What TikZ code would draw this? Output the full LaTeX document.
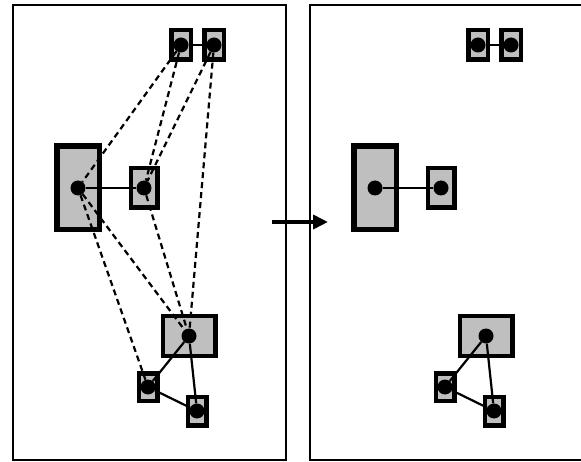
\documentclass[tikz,border=0pt]{standalone}
\usetikzlibrary{arrows.meta}
\tikzstyle{panel} = [draw,line width=2pt]
\tikzstyle{cell} = [draw,fill=gray!50,line width=4.5pt,inner sep=0pt]
\tikzstyle{dot} = [circle,fill=black,inner sep=0pt,minimum size=15pt]
\tikzstyle{link} = [line width=2.2pt]
\tikzstyle{match} = [line width=2.2pt,dash pattern=on 6pt off 4pt]
\tikzstyle{move} = [line width=4pt,-{Triangle[length=15pt,width=14pt]}]

\begin{document}
\begin{tikzpicture}[x=1pt,y=-1pt]
  \useasboundingbox (0,0) rectangle (581,462);
  \draw[panel] (13,5) rectangle (286,460);
  \draw[panel] (310,5) rectangle (583,460);
  \node[cell,minimum width=19.5pt,minimum height=29.5pt] (lA) at (181,45) {};
  \node[cell,minimum width=19.5pt,minimum height=29.5pt] (lB) at (214,45) {};
  \node[cell,line width=5.5pt,minimum width=42.5pt,minimum height=83.5pt] (lC) at (78,188) {};
  \node[cell,minimum width=26.5pt,minimum height=39.5pt] (lD) at (144,188) {};
  \node[cell,minimum width=52.5pt,minimum height=39.5pt] (lE) at (189,336) {};
  \node[cell,minimum width=18.5pt,minimum height=27.5pt] (lF) at (148,387) {};
  \node[cell,minimum width=18.5pt,minimum height=28.5pt] (lG) at (197,411) {};
  \node[dot] (la) at (lA) {};
  \node[dot] (lb) at (lB) {};
  \node[dot] (lc) at (lC) {};
  \node[dot] (ld) at (lD) {};
  \node[dot] (le) at (lE) {};
  \node[dot] (lf) at (lF) {};
  \node[dot] (lg) at (lG) {};
  \draw[link] (la) -- (lb);
  \draw[link] (lc) -- (ld);
  \draw[link] (le) -- (lf);
  \draw[link] (le) -- (lg);
  \draw[link] (lf) -- (lg);
  \draw[match] (la) -- (lc);
  \draw[match] (la) -- (ld);
  \draw[match] (lb) -- (ld);
  \draw[match] (lb) -- (le);
  \draw[match] (lc) -- (le);
  \draw[match] (lc) -- (lf);
  \draw[match] (ld) -- (le);
  \begin{scope}[xshift=297pt]
    \node[cell,minimum width=19.5pt,minimum height=29.5pt] (rA) at (181,45) {};
    \node[cell,minimum width=19.5pt,minimum height=29.5pt] (rB) at (214,45) {};
    \node[cell,line width=5.5pt,minimum width=42.5pt,minimum height=83.5pt] (rC) at (78,188) {};
    \node[cell,minimum width=26.5pt,minimum height=39.5pt] (rD) at (144,188) {};
    \node[cell,minimum width=52.5pt,minimum height=39.5pt] (rE) at (189,336) {};
    \node[cell,minimum width=18.5pt,minimum height=27.5pt] (rF) at (148,387) {};
    \node[cell,minimum width=18.5pt,minimum height=28.5pt] (rG) at (197,411) {};
    \node[dot] (ra) at (rA) {};
    \node[dot] (rb) at (rB) {};
    \node[dot] (rc) at (rC) {};
    \node[dot] (rd) at (rD) {};
    \node[dot] (re) at (rE) {};
    \node[dot] (rf) at (rF) {};
    \node[dot] (rg) at (rG) {};
    \draw[link] (ra) -- (rb);
    \draw[link] (rc) -- (rd);
    \draw[link] (re) -- (rf);
    \draw[link] (re) -- (rg);
    \draw[link] (rf) -- (rg);
  \end{scope}
  \coordinate (from) at (272,222);
  \coordinate (to) at (328,222);
  \draw[move] (from) -- (to);
\end{tikzpicture}
\end{document}
